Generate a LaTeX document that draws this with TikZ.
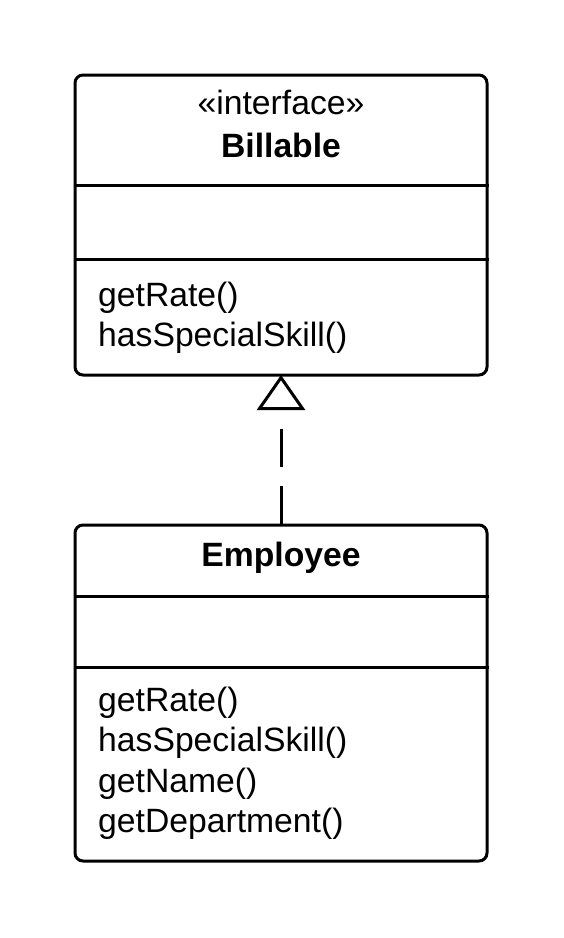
\documentclass[tikz,border=0pt]{standalone}
\usepackage{fontspec}
\setmainfont{Liberation Sans}
\usetikzlibrary{arrows.meta}

\tikzset{
  classbox/.style={draw, line width=3pt, rounded corners=8pt, inner sep=0pt,
    minimum width=412pt},
  divider/.style={line width=3pt},
  method/.style={anchor=base west, inner sep=0pt, font=\fontsize{33.7}{40}\selectfont},
  title/.style={anchor=base, inner sep=0pt, font=\fontsize{33.7}{40}\selectfont},
  realizes/.style={line width=3pt, dash pattern=on 38pt off 19pt,
    -{Triangle[open, length=35pt, width=48pt]}, shorten >=-1.5pt}
}

\begin{document}
\begin{tikzpicture}[x=1pt,y=-1pt]
  \useasboundingbox (0,0) rectangle (563,938);

  % Interface
  \node[classbox, minimum height=300pt] (billable) at (281,225) {};
  \draw[divider] (billable.west |- 0,185) -- (billable.east |- 0,185);
  \draw[divider] (billable.west |- 0,259) -- (billable.east |- 0,259);
  \node[title] (stereo) at (281,114) {«interface»};
  \node[title] (billname) at (281,157) {\bfseries Billable};
  \foreach \m [count=\i] in {getRate(), hasSpecialSkill()}
    \node[method] (bill-\i) at (98,{306+40.5*(\i-1)}) {\m};

  % Class
  \node[classbox, minimum height=336pt] (employee) at (281,693) {};
  \draw[divider] (employee.west |- 0,596) -- (employee.east |- 0,596);
  \draw[divider] (employee.west |- 0,667) -- (employee.east |- 0,667);
  \node[title] (empname) at (281,566) {\bfseries Employee};
  \foreach \m [count=\i] in {getRate(), hasSpecialSkill(), getName(), getDepartment()}
    \node[method] (emp-\i) at (98,{711+40.5*(\i-1)}) {\m};

  % Realisation
  \draw[realizes] (employee.north) -- (billable.south);
\end{tikzpicture}
\end{document}
